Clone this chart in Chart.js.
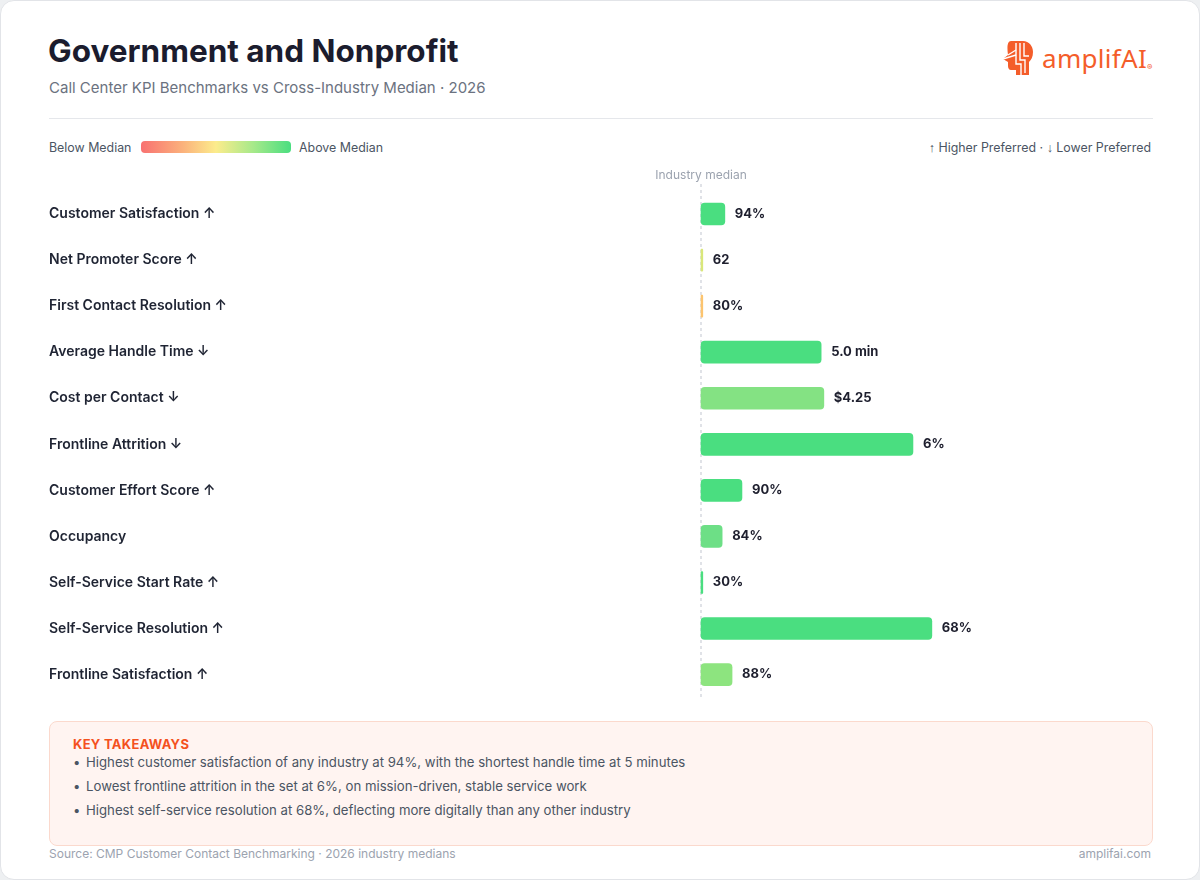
<!DOCTYPE html>
<html>
<head>
<meta charset="utf-8">
<script src="https://cdn.jsdelivr.net/npm/chart.js@4.4.1/dist/chart.umd.min.js"></script>
<style>
  body { margin: 0; background: #eef0f2; font-family: Inter, "Noto Sans", sans-serif; }
  .card { position: absolute; left: 0; top: 0; width: 1200px; height: 880px; box-sizing: border-box;
          background: #fff; border: 1px solid #e2e4e8; border-radius: 14px; overflow: hidden; }
  .abs { position: absolute; white-space: nowrap; }
  .title { left: 47px; top: 32px; font-size: 31.5px; line-height: 36px; font-weight: 700; color: #1b1c2e; letter-spacing: 0px; }
  .subtitle { left: 48px; top: 77px; font-size: 15px; line-height: 20px; color: #6b7280; }
  .divider { left: 48px; top: 117px; width: 1104px; height: 1px; background: #e5e7eb; }
  .legend { top: 138px; font-size: 12.4px; line-height: 18px; color: #4b5563; }
  .arrow { font-family: "Liberation Sans", sans-serif; }
  .grad { left: 140px; top: 140px; width: 150px; height: 12px; border-radius: 4px;
          background: linear-gradient(90deg, #f87171 0%, #fbb27c 28%, #fcec8c 50%, #a6e98a 75%, #4ade80 100%); }
  .logo-text { left: 1041px; top: 40px; font-size: 26px; line-height: 34px; color: #f45d2a; font-family: "Noto Sans", sans-serif; letter-spacing: 0.3px; }
  .reg { left: 1146px; top: 61px; font-size: 8px; color: #f45d2a; }
  .box { left: 48px; top: 720px; width: 1104px; height: 125px; box-sizing: border-box; background: #fff4f1;
         border: 1px solid #fbd9cd; border-radius: 8px; }
  .kt { left: 72px; top: 735px; font-size: 13px; line-height: 16px; font-weight: 700; color: #f4511e; letter-spacing: 0.3px; }
  .bullet { left: 72px; font-size: 13.2px; line-height: 18px; color: #4b5563; }
  .bullet span { display: inline-block; width: 13px; }
  .footer { top: 845px; font-size: 12px; line-height: 16px; color: #9ca3af; }
  #chart { position: absolute; left: 48px; top: 160px; }
</style>
</head>
<body>
<div class="card">
  <div class="abs title">Government and Nonprofit</div>
  <div class="abs subtitle">Call Center KPI Benchmarks vs Cross-Industry Median · 2026</div>
  <svg class="abs" style="left:1001px;top:39px" width="32" height="36" viewBox="0 0 32 36">
    <path d="M9 1 H21 C27 1 31 6 31 12 C31 17 29 20 27 22 V35 H14 V30 H9 C7 30 6 28 6 26 V22 L1 19 L6 15 C5 8 5 1 9 1 Z" fill="#f45d2a"/>
    <g stroke="#fff" stroke-width="1.4" fill="none">
      <path d="M14 3 V24 H19 V35"/>
      <path d="M18 3 V20 H23 V33"/>
      <path d="M22 3 V16 H27"/>
      <path d="M1 19 L14 15"/>
      <path d="M6 15 L14 10"/>
    </g>
  </svg>
  <div class="abs logo-text">amplifAI</div>
  <div class="abs reg">®</div>
  <div class="abs divider"></div>
  <div class="abs legend" style="left:48px">Below Median</div>
  <div class="abs grad"></div>
  <div class="abs legend" style="left:298px">Above Median</div>
  <div class="abs legend" style="right:48px"><span class="arrow">↑</span> Higher Preferred · <span class="arrow">↓</span> Lower Preferred</div>
  <canvas id="chart" width="1104" height="545"></canvas>
  <div class="abs box"></div>
  <div class="abs kt">KEY TAKEAWAYS</div>
  <div class="abs bullet" style="top:752px"><span>•</span>Highest customer satisfaction of any industry at 94%, with the shortest handle time at 5 minutes</div>
  <div class="abs bullet" style="top:776px"><span>•</span>Lowest frontline attrition in the set at 6%, on mission-driven, stable service work</div>
  <div class="abs bullet" style="top:800px"><span>•</span>Highest self-service resolution at 68%, deflecting more digitally than any other industry</div>
  <div class="abs footer" style="left:48px">Source: CMP Customer Contact Benchmarking · 2026 industry medians</div>
  <div class="abs footer" style="right:48px">amplifai.com</div>
</div>
<script>
// KPI rows, top to bottom
const kpis = [
    'Customer Satisfaction ↑',
    'Net Promoter Score ↑',
    'First Contact Resolution ↑',
    'Average Handle Time ↓',
    'Cost per Contact ↓',
    'Frontline Attrition ↓',
    'Customer Effort Score ↑',
    'Occupancy',
    'Self-Service Start Rate ↑',
    'Self-Service Resolution ↑',
    'Frontline Satisfaction ↑'
];
// industry value as printed next to each bar
const valueLabels = ['94%', '62', '80%', '5.0 min', '$4.25', '6%', '90%', '84%', '30%', '68%', '88%'];
// favourable gap vs cross-industry median (median = 0)
const gapVsMedian = [5.3, 0.4, 0.4, 26.7, 27.3, 47.1, 9.1, 4.7, 0.4, 51.3, 6.9];
const barColors = ['#4ade80', '#d9e77a', '#fcc46f', '#4ade80', '#84e283', '#4ade80', '#4ade80', '#6ddf86', '#4ade80', '#4ade80', '#8de47f'];
const axisMin = -100;
const axisMax = 100;

const medianPlugin = {
    id: 'median',
    beforeDatasetsDraw(chart) {
        const { ctx, chartArea, scales } = chart;
        const x = scales.x.getPixelForValue(0);
        ctx.save();
        ctx.strokeStyle = '#d6d9df';
        ctx.lineWidth = 1.5;
        ctx.setLineDash([3, 3]);
        ctx.beginPath();
        ctx.moveTo(x, 23);
        ctx.lineTo(x, chartArea.bottom + 1);
        ctx.stroke();
        ctx.setLineDash([]);
        ctx.fillStyle = '#9ca3af';
        ctx.font = '12px Inter, sans-serif';
        ctx.textAlign = 'center';
        ctx.textBaseline = 'middle';
        ctx.fillText('Industry median', x, 14);
        ctx.restore();
    },
    afterDatasetsDraw(chart) {
        const { ctx } = chart;
        const meta = chart.getDatasetMeta(0);
        ctx.save();
        ctx.fillStyle = '#1e1f2e';
        ctx.font = 'bold 13px Inter, sans-serif';
        ctx.textAlign = 'left';
        ctx.textBaseline = 'middle';
        meta.data.forEach((bar, i) => {
            ctx.fillText(valueLabels[i], bar.x + 10, bar.y);
        });
        ctx.restore();
    }
};

new Chart(document.getElementById('chart'), {
    type: 'bar',
    data: {
        labels: kpis,
        datasets: [{
            data: gapVsMedian,
            backgroundColor: barColors,
            barThickness: 22,
            borderRadius: 4,
            borderSkipped: false
        }]
    },
    options: {
        indexAxis: 'y',
        responsive: false,
        devicePixelRatio: 1,
        animation: false,
        layout: { padding: { top: 30, bottom: 4, right: 2, left: 0 } },
        plugins: { legend: { display: false }, tooltip: { enabled: false } },
        scales: {
            x: { display: false, min: axisMin, max: axisMax },
            y: {
                grid: { display: false },
                border: { display: false },
                afterFit(axis) { axis.width = 202; },
                ticks: {
                    crossAlign: 'far',
                    padding: 0,
                    color: '#1f2433',
                    font: { family: 'Inter, sans-serif', size: 14, weight: '600' }
                }
            }
        }
    },
    plugins: [medianPlugin]
});
</script>
</body>
</html>
